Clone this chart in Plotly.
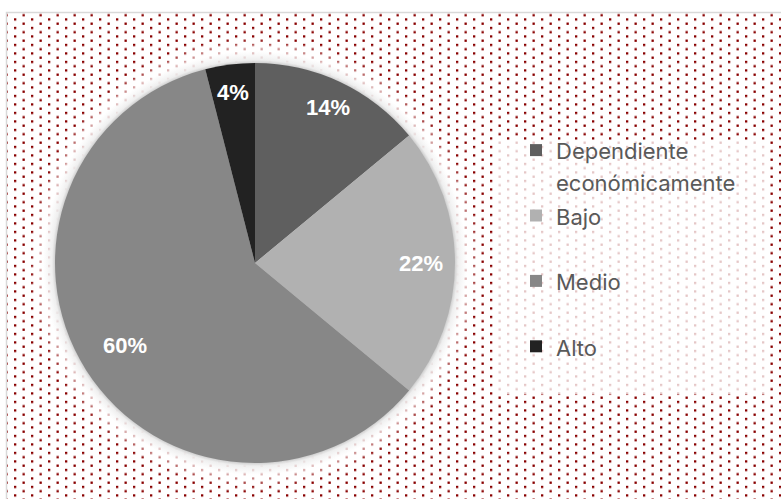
import base64
import math
import plotly.graph_objects as go

# --- data -------------------------------------------------------------
categories = ["Dependiente<br>económicamente", "Bajo", "Medio", "Alto"]
shares = [14, 22, 60, 4]

# --- style ------------------------------------------------------------
slice_colors = ["#5f5f5f", "#b1b1b1", "#878787", "#222222"]
label_radius = [0.86, 0.83, 0.77, 0.86]   # radial placement of the % labels
W, H = 781, 499
CX, CY, R = 255, 263, 200                  # pie centre / radius in pixels
DOT = "#880000"

# background: dotted fill, soft glow around the pie, pale legend panel, frame
svg = f'''<svg xmlns="http://www.w3.org/2000/svg" width="{W}" height="{H}" viewBox="0 0 {W} {H}">
<defs>
<pattern id="dots" patternUnits="userSpaceOnUse" x="14" y="18.3" width="17" height="8.5">
<rect x="0" y="0" width="2.3" height="2.3" fill="{DOT}"/>
<rect x="8.5" y="4.25" width="2.3" height="2.3" fill="{DOT}"/>
</pattern>
<radialGradient id="glow" gradientUnits="userSpaceOnUse" cx="{CX}" cy="{CY}" r="{R + 26}">
<stop offset="{R / (R + 26):.4f}" stop-color="#d0d0d0" stop-opacity="1"/>
<stop offset="{(R + 3) / (R + 26):.4f}" stop-color="#eeeeee" stop-opacity="0.97"/>
<stop offset="{(R + 12) / (R + 26):.4f}" stop-color="#ffffff" stop-opacity="0.7"/>
<stop offset="1" stop-color="#ffffff" stop-opacity="0"/>
</radialGradient>
</defs>
<rect width="{W}" height="{H}" fill="#ffffff"/>
<rect x="7" y="13" width="{W}" height="{H}" fill="url(#dots)"/>
<circle cx="{CX}" cy="{CY}" r="{R + 26}" fill="url(#glow)"/>
<rect x="495" y="140" width="275" height="254" fill="#ffffff" fill-opacity="0.78"/>
<path d="M6.5 {H} V12.5 H{W}" stroke="#d9d9d9" stroke-width="1.5" fill="none"/>
</svg>'''
bg_uri = "data:image/svg+xml;base64," + base64.b64encode(svg.encode("utf-8")).decode("ascii")

legend_labels = [f"<span style='font-size:22px'>{c}</span>" if "<br>" in c
                 else f"<span style='font-size:22px'>{c}</span><br>\u00a0" for c in categories]

fig = go.Figure(go.Pie(
    labels=legend_labels,
    values=shares,
    sort=False,
    direction="clockwise",
    rotation=0,
    marker=dict(colors=slice_colors, line=dict(width=0)),
    textinfo="none",
    domain=dict(x=[(CX - R) / W, (CX + R) / W], y=[1 - (CY + R) / H, 1 - (CY - R) / H]),
))

# percentage labels placed at the middle angle of each slice
total = sum(shares)
annotations = []
cum = 0
for v, rr in zip(shares, label_radius):
    theta = 2 * math.pi * (cum + v / 2) / total
    cum += v
    px = CX + rr * R * math.sin(theta)
    py = CY - rr * R * math.cos(theta)
    annotations.append(dict(
        x=px / W, y=1 - py / H, xref="paper", yref="paper",
        text=f"<b>{round(100 * v / total)}%</b>", showarrow=False,
        font=dict(family="Liberation Sans, Arial, sans-serif", size=22, color="#ffffff"),
        xanchor="center", yanchor="middle",
    ))

fig.update_layout(
    width=W, height=H,
    margin=dict(l=0, r=0, t=0, b=0),
    paper_bgcolor="#ffffff",
    plot_bgcolor="rgba(0,0,0,0)",
    images=[dict(source=bg_uri, xref="paper", yref="paper", x=0, y=1,
                 sizex=1, sizey=1, sizing="stretch", xanchor="left", yanchor="top",
                 layer="below")],
    showlegend=True,
    legend=dict(
        x=516 / W, y=1 - 128 / H, xanchor="left", yanchor="top",
        bgcolor="rgba(0,0,0,0)", borderwidth=0,
        valign="top",
        font=dict(family="Inter, Noto Sans, sans-serif", size=24, color="#595959"),
    ),
    annotations=annotations,
)

fig.write_html("out.html")
